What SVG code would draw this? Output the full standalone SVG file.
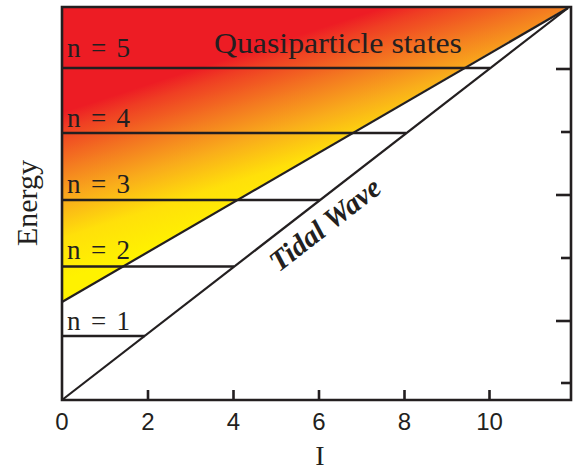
<svg xmlns="http://www.w3.org/2000/svg" width="573" height="470" viewBox="0 0 573 470">
<style>
.ax{stroke:#231F20;stroke-width:2.6;fill:none;stroke-linecap:square}
.lv{stroke:#231F20;stroke-width:2.6;fill:none}
.dg{stroke:#231F20;stroke-width:2.2;fill:none}
.tk{stroke:#231F20;stroke-width:2.6}
.serif{font-family:"Liberation Serif","Times New Roman",serif;fill:#231F20}
.sans{font-family:"Liberation Sans",Arial,sans-serif;fill:#231F20;font-size:24px;text-anchor:middle}
</style>
<defs>
<linearGradient id="g" gradientUnits="userSpaceOnUse" x1="100" y1="100" x2="162" y2="290">
<stop offset="0" stop-color="#ED1C24"/>
<stop offset="0.08" stop-color="#EF3E23"/>
<stop offset="0.27" stop-color="#F47D20"/>
<stop offset="0.42" stop-color="#F9AC1B"/>
<stop offset="0.6" stop-color="#FFE00A"/>
<stop offset="0.8" stop-color="#FFF200"/>
</linearGradient>
</defs>
<g id="band">
<polygon points="62,7 568,7 62,302" fill="url(#g)"/>
</g>
<g id="connectors">
<line class="lv" x1="62" y1="68" x2="490" y2="68"/>
<line class="lv" x1="62" y1="133" x2="406" y2="133"/>
<line class="lv" x1="62" y1="200" x2="320" y2="200"/>
<line class="lv" x1="62" y1="266.5" x2="234" y2="266.5"/>
<line class="lv" x1="62" y1="336" x2="145" y2="336"/>
<line class="dg" x1="62" y1="302" x2="568" y2="8"/>
<line class="dg" x1="62" y1="400" x2="568" y2="8"/>
</g>
<g id="axes">
<polyline class="ax" points="62,400 62,7 571,7 571,400 62,400"/>
<line class="tk" x1="148" y1="390" x2="148" y2="400"/>
<line class="tk" x1="233.5" y1="390" x2="233.5" y2="400"/>
<line class="tk" x1="319" y1="390" x2="319" y2="400"/>
<line class="tk" x1="404.5" y1="390" x2="404.5" y2="400"/>
<line class="tk" x1="489.5" y1="390" x2="489.5" y2="400"/>
<line class="tk" x1="556" y1="69" x2="571" y2="69"/>
<line class="tk" x1="561" y1="132" x2="571" y2="132"/>
<line class="tk" x1="556" y1="195" x2="571" y2="195"/>
<line class="tk" x1="561" y1="258" x2="571" y2="258"/>
<line class="tk" x1="556" y1="321" x2="571" y2="321"/>
<line class="tk" x1="561" y1="383" x2="571" y2="383"/>
</g>
<g id="tick-labels">
<text class="sans" x="62" y="430">0</text>
<text class="sans" x="148" y="430">2</text>
<text class="sans" x="233.5" y="430">4</text>
<text class="sans" x="319" y="430">6</text>
<text class="sans" x="404.5" y="430">8</text>
<text class="sans" x="489.5" y="430">10</text>
</g>
<g id="level-labels">
<text class="serif" x="67" y="57" font-size="27" textLength="63" lengthAdjust="spacing">n = 5</text>
<text class="serif" x="67" y="127" font-size="27" textLength="63" lengthAdjust="spacing">n = 4</text>
<text class="serif" x="67" y="193" font-size="27" textLength="63" lengthAdjust="spacing">n = 3</text>
<text class="serif" x="67" y="259" font-size="27" textLength="63" lengthAdjust="spacing">n = 2</text>
<text class="serif" x="67" y="330" font-size="27" textLength="63" lengthAdjust="spacing">n = 1</text>
</g>
<g id="labels">
<text class="serif" x="214" y="53" font-size="30" textLength="248" lengthAdjust="spacingAndGlyphs">Quasiparticle states</text>
<text class="serif" font-size="30" text-anchor="middle" transform="translate(37,203) rotate(-90)">Energy</text>
<text class="serif" x="320" y="465" font-size="28" text-anchor="middle">I</text>
<text class="serif" font-size="29" font-style="italic" font-weight="bold" text-anchor="middle" transform="translate(331,232) rotate(-38)">Tidal Wave</text>
</g>
</svg>
